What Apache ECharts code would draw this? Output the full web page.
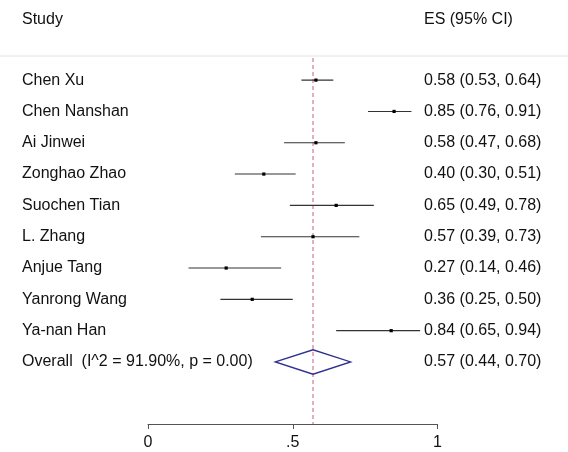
<!DOCTYPE html>
<html>
<head>
<meta charset="utf-8">
<script src="https://cdn.jsdelivr.net/npm/echarts@6/dist/echarts.min.js"></script>
<style>
html,body{margin:0;padding:0;background:#fff;}
#c{width:568px;height:452px;}
</style>
</head>
<body>
<div id="c"></div>
<script>
var studies = ['Chen Xu','Chen Nanshan','Ai Jinwei','Zonghao Zhao','Suochen Tian','L. Zhang','Anjue Tang','Yanrong Wang','Ya-nan Han'];
var es = [0.58, 0.85, 0.58, 0.40, 0.65, 0.57, 0.27, 0.36, 0.84];
var lo = [0.53, 0.76, 0.47, 0.30, 0.49, 0.39, 0.14, 0.25, 0.65];
var hi = [0.64, 0.91, 0.68, 0.51, 0.78, 0.73, 0.46, 0.50, 0.94];
var overallLabel = 'Overall  (I^2 = 91.90%, p = 0.00)';
var overallES = 0.57, overallLo = 0.44, overallHi = 0.70;
var tickLabels = ['0', '.5', '1'];
var headers = ['Study', 'ES (95% CI)'];

var FONT = '"Liberation Sans", Arial, sans-serif';
var FS = 16;
var LEFT_X = 22, RIGHT_X = 424;
var Y_MIN = -0.77, Y_MAX = 10.98;

function fmt(e, l, h){ return e.toFixed(2) + ' (' + l.toFixed(2) + ', ' + h.toFixed(2) + ')'; }

var studyData = studies.map(function(n, i){
  return { name: n, value: [lo[i], hi[i], es[i], i] };
});
var overallData = [{ name: overallLabel, value: [overallLo, overallHi, overallES, studies.length] }];

var chart = echarts.init(document.getElementById('c'), null, {renderer:'canvas'});
chart.setOption({
  backgroundColor: '#ffffff',
  animation: false,
  grid: { left: 148, right: 130.5, top: 56, bottom: 28 },
  xAxis: {
    type: 'value', min: 0, max: 1, interval: 0.5, position: 'bottom',
    axisLine: { show: true, onZero: false, lineStyle: { color: '#555', width: 1 } },
    axisTick: { show: true, length: 5, lineStyle: { color: '#555' } },
    splitLine: { show: false },
    axisLabel: {
      margin: 11, color: '#111', fontSize: FS, fontFamily: FONT,
      formatter: function(v){ return tickLabels[Math.round(v / 0.5)]; }
    }
  },
  yAxis: { type: 'value', inverse: true, min: Y_MIN, max: Y_MAX, show: false },
  graphic: [
    { type: 'line', shape: { x1: 0, y1: 56, x2: 568, y2: 56 }, style: { stroke: '#e2e2e2', lineWidth: 1 }, z: 1 },
    { type: 'text', x: LEFT_X, y: 20, style: { text: headers[0], fill: '#111', font: FS + 'px ' + FONT, textVerticalAlign: 'middle' } },
    { type: 'text', x: RIGHT_X, y: 20, style: { text: headers[1], fill: '#111', font: FS + 'px ' + FONT, textVerticalAlign: 'middle' } }
  ],
  series: [
    {
      type: 'custom',
      clip: false,
      data: [[overallES]],
      encode: { x: 0 },
      renderItem: function(params, api){
        var v = api.value(0);
        var a = api.coord([v, Y_MIN]), b = api.coord([v, Y_MAX]);
        return { type: 'line', shape: { x1: a[0], y1: a[1] + 2, x2: b[0], y2: b[1] },
          style: { stroke: '#c4607e', lineWidth: 1, lineDash: [4, 3] } };
      },
      z: 2
    },
    {
      type: 'custom',
      clip: false,
      data: studyData,
      encode: { x: [0, 1, 2], y: 3 },
      renderItem: function(params, api){
        var l = api.value(0), h = api.value(1), e = api.value(2), i = api.value(3);
        var p1 = api.coord([l, i]), p2 = api.coord([h, i]), pe = api.coord([e, i]);
        var name = studies[params.dataIndex];
        return { type: 'group', children: [
          { type: 'line', shape: { x1: p1[0], y1: p1[1], x2: p2[0], y2: p2[1] }, style: { stroke: '#333', lineWidth: 1.1 } },
          { type: 'rect', shape: { x: pe[0] - 1.6, y: pe[1] - 1.6, width: 3.2, height: 3.2 }, style: { fill: '#000' } },
          { type: 'text', x: LEFT_X, y: pe[1], style: { text: name, fill: '#111', font: FS + 'px ' + FONT, textVerticalAlign: 'middle', textAlign: 'left' } },
          { type: 'text', x: RIGHT_X, y: pe[1], style: { text: fmt(e, l, h), fill: '#111', font: FS + 'px ' + FONT, textVerticalAlign: 'middle', textAlign: 'left' } }
        ]};
      },
      z: 3
    },
    {
      type: 'custom',
      clip: false,
      data: overallData,
      encode: { x: [0, 1, 2], y: 3 },
      renderItem: function(params, api){
        var l = api.value(0), h = api.value(1), e = api.value(2), i = api.value(3);
        var pl = api.coord([l, i]), ph = api.coord([h, i]), pe = api.coord([e, i]);
        var hh = api.size([0, 1])[1] * 0.39;
        return { type: 'group', children: [
          { type: 'polygon', shape: { points: [[pl[0], pe[1]], [pe[0], pe[1] - hh], [ph[0], pe[1]], [pe[0], pe[1] + hh]] },
            style: { fill: 'rgba(0,0,0,0)', stroke: '#2f2f8f', lineWidth: 1.3 } },
          { type: 'text', x: LEFT_X, y: pe[1], style: { text: overallLabel, fill: '#111', font: FS + 'px ' + FONT, textVerticalAlign: 'middle', textAlign: 'left' } },
          { type: 'text', x: RIGHT_X, y: pe[1], style: { text: fmt(e, l, h), fill: '#111', font: FS + 'px ' + FONT, textVerticalAlign: 'middle', textAlign: 'left' } }
        ]};
      },
      z: 4
    }
  ]
});
</script>
</body>
</html>
